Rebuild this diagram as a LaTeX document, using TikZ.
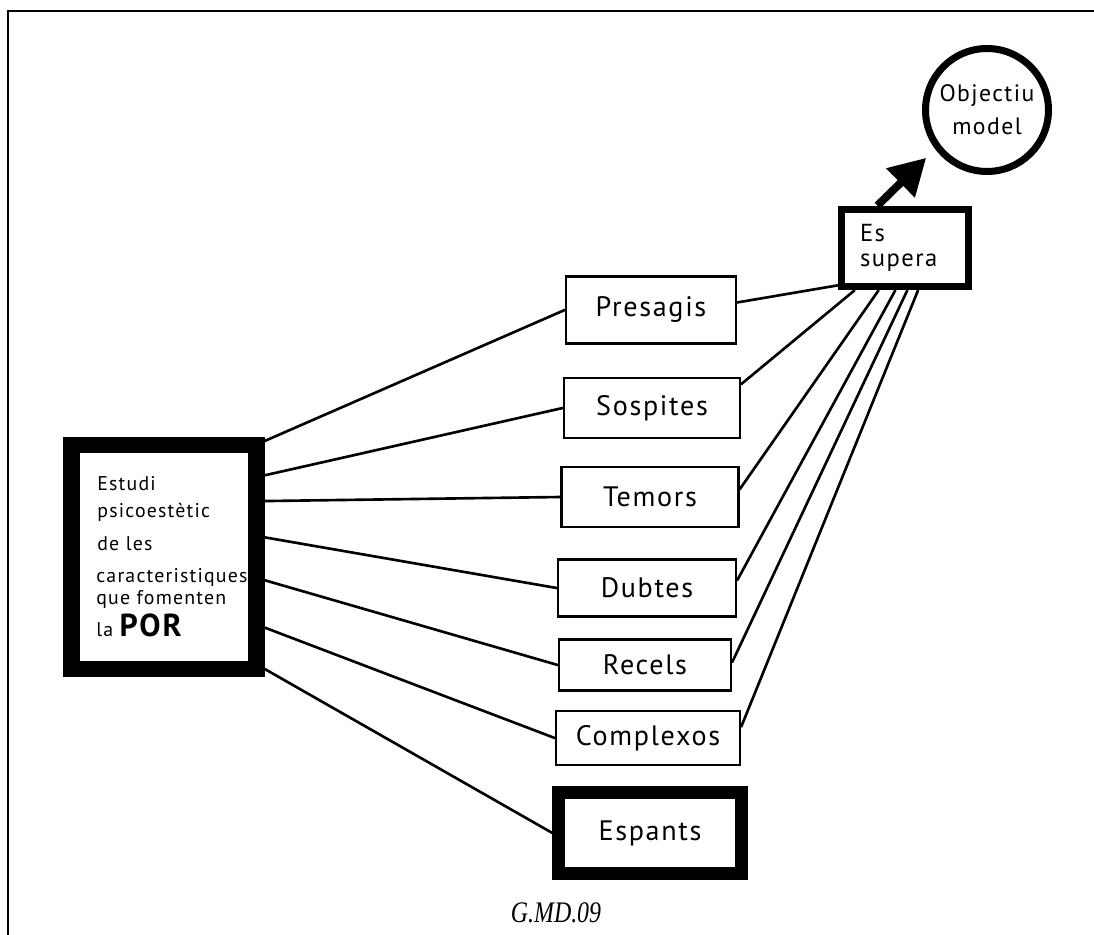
\documentclass[tikz,border=0pt]{standalone}
\usepackage{fontspec}
\usepackage{graphicx}
\setmainfont{Liberation Serif}
\newfontfamily\handfont{PT Sans}[LetterSpace=6]
\usetikzlibrary{arrows.meta}
\tikzset{
  frame/.style={line width=1.1pt, draw=black},
  word/.style={draw, line width=1.5pt, align=center, minimum width=3.52cm, minimum height=1.16cm,
               inner sep=2pt, font=\handfont\fontsize{16}{19}\selectfont},
  heavyword/.style={word, line width=7pt, minimum width=3.66cm, minimum height=1.62cm},
  porbox/.style={draw, line width=9.6pt, minimum width=3.7cm, minimum height=4.48cm},
  porline/.style={anchor=base west, inner sep=0pt, font=\handfont\fontsize{11.3}{13}\selectfont},
  superbox/.style={draw, line width=4.5pt, align=left, text width=1.8cm, minimum width=2.54cm,
                   minimum height=1.54cm, font=\handfont\fontsize{14}{14.5}\selectfont},
  goalcircle/.style={draw, circle, line width=4pt, align=center, text width=2cm, minimum size=2.46cm,
                     inner sep=0pt, font=\handfont\fontsize{13.5}{18.7}\selectfont},
  link/.style={line width=1.5pt, line cap=round},
  bigarrow/.style={-{Triangle[length=0.72cm, width=0.78cm]}, line width=4.5pt, shorten >=0.25cm}
}
\begin{document}
\begin{tikzpicture}[x=0.02cm, y=-0.02cm]
\useasboundingbox (0,0) rectangle (1094,935);
\draw[frame] (8,935) -- (8,11) -- (1094,11);
\node[porbox] (por) at (164,557) {};
\node[porline] (l1) at (97,490) {Estudi};
\node[porline] (l2) at (97,517) {psicoestètic};
\node[porline] (l3) at (97,550) {de les};
\node[porline] (l4) at (96,582) {caracteristiques};
\node[porline] (l5) at (96,604) {que fomenten};
\node[porline] (l6) at (96,636) {la \scalebox{1.6}{\bfseries POR}};
\node[word, minimum width=3.4cm, minimum height=1.34cm] (pres) at (651,310) {Presagis};
\node[word, minimum height=1.2cm] (sosp) at (652,408) {Sospites};
\node[word, minimum width=3.54cm, minimum height=1.2cm] (temo) at (650,497) {Temors};
\node[word, minimum width=3.56cm, minimum height=1.14cm] (dubt) at (647,588) {Dubtes};
\node[word, minimum width=3.44cm, minimum height=1.02cm] (rece) at (645,665) {Recels};
\node[word, minimum width=3.68cm, minimum height=1.08cm] (comp) at (648,738) {Complexos};
\node[heavyword] (espa) at (650,833) {Espants};
\node[superbox] (supera) at (905,248) {Es\\supera};
\node[goalcircle] (obj) at (987,110) {Objectiu\\model};
\node[font=\itshape\fontsize{17}{17}\selectfont] (code) at (556,913) {\scalebox{0.8}[1]{G.MD.09}};
\draw[link] (por.49) -- (pres.west);
\draw[link] (por.39) -- (sosp.west);
\draw[link] (por.29) -- (temo.west);
\draw[link] (por.11) -- (dubt.west);
\draw[link] (por.347) -- (rece.west);
\draw[link] (por.325) -- (comp.west);
\draw[link] (por.312) -- (espa.west);
\draw[link] (pres.5) -- (supera.209);
\draw[link] (sosp.15) -- (supera.220);
\draw[link] (temo.5) -- (supera.238);
\draw[link] (dubt.5) -- (supera.257);
\draw[link] (rece.2) -- (supera.273);
\draw[link] (comp.7) -- (supera.287);
\draw[bigarrow] (supera.123) -- (obj.217);
\end{tikzpicture}
\end{document}
